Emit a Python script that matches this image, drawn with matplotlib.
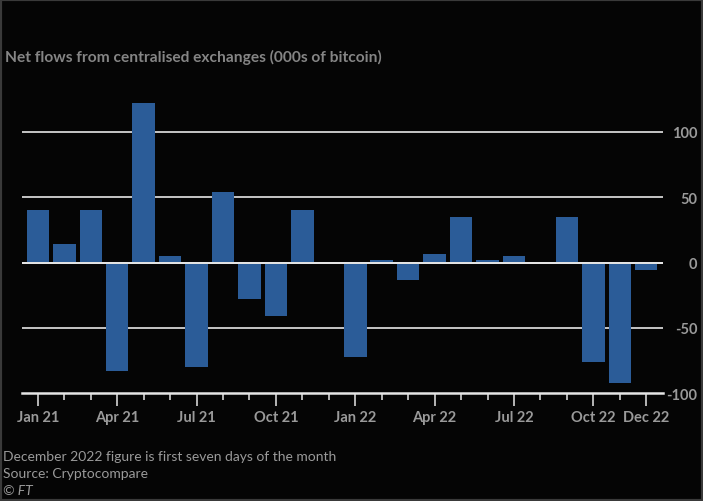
import matplotlib
matplotlib.use("Agg")
import matplotlib.pyplot as plt
import numpy as np
from matplotlib.patches import Rectangle

# Net flows from centralised exchanges, 000s of bitcoin
months = ["Jan 21", "Feb 21", "Mar 21", "Apr 21", "May 21", "Jun 21",
          "Jul 21", "Aug 21", "Sep 21", "Oct 21", "Nov 21", "Dec 21",
          "Jan 22", "Feb 22", "Mar 22", "Apr 22", "May 22", "Jun 22",
          "Jul 22", "Aug 22", "Sep 22", "Oct 22", "Nov 22", "Dec 22"]
flows = [40, 14, 40, -83, 122, 5, -80, 54, -28, -41, 40, -0.6,
         -72, 2, -13, 6.5, 35, 2, 5, -0.7, 35, -76, -92, -5.5]
label_months = ["Jan 21", "Apr 21", "Jul 21", "Oct 21", "Jan 22",
                "Apr 22", "Jul 22", "Oct 22", "Dec 22"]
y_ticks = [-100, -50, 0, 50, 100]

bg = "#050505"
bar_col = "#2b5c98"
grid_col = "#e6e6e6"
txt_col = "#9a9a9a"
font = ["Lato", "DejaVu Sans"]

fig = plt.figure(figsize=(7.03, 5.02), dpi=100, facecolor=bg)
ax = fig.add_axes([0.0313, 0.2145, 0.912, 0.5863], facecolor=bg)

x = np.arange(len(months))
ax.set_xlim(-0.6, len(months) - 1 + 0.64)
ax.set_ylim(-100, 125)

for t in y_ticks[1:]:
    ax.axhline(t, color=grid_col, lw=1.2, zorder=1)
ax.bar(x, flows, width=0.85, color=bar_col, zorder=2)
ax.axhline(0, color=grid_col, lw=1.4, zorder=3)
ax.axhline(-100, color=grid_col, lw=1.8, zorder=3, clip_on=False)

for s in ax.spines.values():
    s.set_visible(False)

# y axis on the right
ax.yaxis.tick_right()
ax.set_yticks(y_ticks)
ax.set_yticklabels([str(v) for v in y_ticks])
ax.tick_params(axis="y", length=0, pad=24.5, labelsize=10.5, labelcolor=txt_col)
for lab in ax.get_yticklabels():
    lab.set_horizontalalignment("right")
    lab.set_family(font)
    lab.set_fontweight("bold")

# x ticks: long at quarters (and last month), short otherwise
major = [i for i in x if i % 3 == 0 or i == len(months) - 1]
minor = [i for i in x if i not in major]
ax.set_xticks(major)
ax.set_xticklabels(["" for _ in major])
ax.set_xticks(minor, minor=True)
ax.tick_params(axis="x", which="major", length=9, width=1.1, color=grid_col, pad=3)
ax.tick_params(axis="x", which="minor", length=5, width=1.1, color=grid_col)
for m in label_months:
    ax.text(months.index(m), -0.082, m, transform=ax.get_xaxis_transform(),
            ha="center", va="center", fontsize=10.5, color=txt_col, family=font,
            fontweight="bold")

fig.text(0.007, 0.886, "Net flows from centralised exchanges (000s of bitcoin)",
         fontsize=11.2, color="#858585", fontweight="bold", family=font,
         va="center", ha="left")
fig.text(0.004, 0.089, "December 2022 figure is first seven days of the month",
         fontsize=10, color=txt_col, family=font, va="center")
fig.text(0.004, 0.056, "Source: Cryptocompare",
         fontsize=10, color=txt_col, family=font, va="center")
fig.text(0.004, 0.022, "© FT", fontsize=10, color=txt_col, family=font,
         style="italic", va="center")

# thin grey frame like the screenshot
fig.add_artist(Rectangle((0, 0), 1, 1, transform=fig.transFigure, fill=False,
                         edgecolor="#3a3a3a", lw=3))

fig.savefig("out.png", dpi=100, facecolor=bg)
